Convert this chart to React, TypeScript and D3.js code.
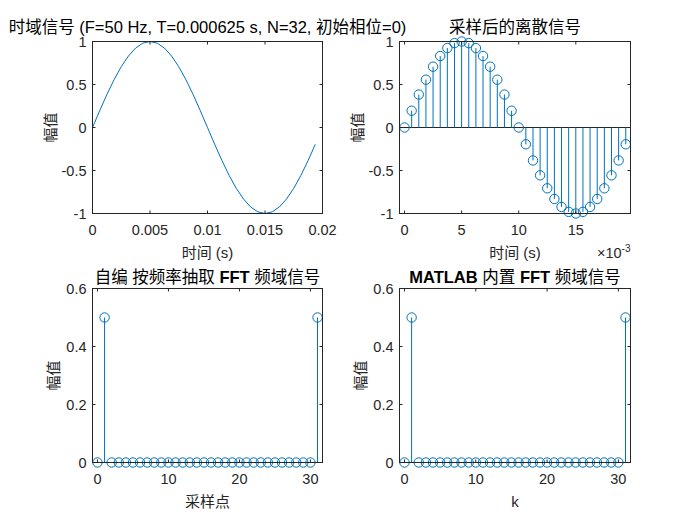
import React from "react";
import * as d3 from "d3";

// ---------- data ----------
const sampleTime = [
  0, 0.000625, 0.00125, 0.001875, 0.0025, 0.003125, 0.00375, 0.004375,
  0.005, 0.005625, 0.00625, 0.006875, 0.0075, 0.008125, 0.00875, 0.009375,
  0.01, 0.010625, 0.01125, 0.011875, 0.0125, 0.013125, 0.01375, 0.014375,
  0.015, 0.015625, 0.01625, 0.016875, 0.0175, 0.018125, 0.01875, 0.019375,
];
const sampleValue = [
  0, 0.195, 0.383, 0.556, 0.707, 0.831, 0.924, 0.981,
  1, 0.981, 0.924, 0.831, 0.707, 0.556, 0.383, 0.195,
  0, -0.195, -0.383, -0.556, -0.707, -0.831, -0.924, -0.981,
  -1, -0.981, -0.924, -0.831, -0.707, -0.556, -0.383, -0.195,
];
const fftIndex = [
  0, 1, 2, 3, 4, 5, 6, 7, 8, 9, 10, 11, 12, 13, 14, 15,
  16, 17, 18, 19, 20, 21, 22, 23, 24, 25, 26, 27, 28, 29, 30, 31,
];
const fftCustom = [
  0, 0.5, 0, 0, 0, 0, 0, 0, 0, 0, 0, 0, 0, 0, 0, 0,
  0, 0, 0, 0, 0, 0, 0, 0, 0, 0, 0, 0, 0, 0, 0, 0.5,
];
const fftBuiltin = [
  0, 0.5, 0, 0, 0, 0, 0, 0, 0, 0, 0, 0, 0, 0, 0, 0,
  0, 0, 0, 0, 0, 0, 0, 0, 0, 0, 0, 0, 0, 0, 0, 0.5,
];
const timeTicks = [0, 0.005, 0.01, 0.015, 0.02];
const timeTicksScaled = [0, 0.005, 0.01, 0.015];
const ampTicks = [-1, -0.5, 0, 0.5, 1];
const idxTicks = [0, 10, 20, 30];
const magTicks = [0, 0.2, 0.4, 0.6];

const titles = [
  "时域信号 (F=50 Hz, T=0.000625 s, N=32, 初始相位=0)",
  "采样后的离散信号",
  "自编 按频率抽取 FFT 频域信号",
  "MATLAB 内置 FFT 频域信号",
];
const xLabels = ["时间 (s)", "时间 (s)", "采样点", "k"];
const yLabel = "幅值";

// ---------- style ----------
const BLUE = "#0072BD";
const AX = "#262626";
const FONT = "'Liberation Sans', Arial, 'Noto Sans CJK SC', sans-serif";
const TICK_FS = 14.5;
const LABEL_FS = 15;
const TITLE_FS = 16.5;

type Box = { x0: number; x1: number; y0: number; y1: number };

function Panel(props: {
  box: Box;
  x: d3.ScaleLinear<number, number>;
  y: d3.ScaleLinear<number, number>;
  xTicks: number[];
  xFmt: (v: number) => string;
  yTicks: number[];
  yFmt: (v: number) => string;
  title: React.ReactNode;
  titleGap: number;
  xLabel: string;
  yLabelOffset: number;
  children?: React.ReactNode;
}) {
  const { box, x, y } = props;
  const tl = 3;
  const cx = (box.x0 + box.x1) / 2;
  const cy = (box.y0 + box.y1) / 2;
  return (
    <g>
      <rect x={box.x0} y={box.y0} width={box.x1 - box.x0} height={box.y1 - box.y0} fill="#fff" />
      {props.children}
      <rect
        x={box.x0}
        y={box.y0}
        width={box.x1 - box.x0}
        height={box.y1 - box.y0}
        fill="none"
        stroke={AX}
        strokeWidth={1}
      />
      {props.xTicks.map((t) => (
        <g key={"xt" + t}>
          <line x1={x(t)} x2={x(t)} y1={box.y1} y2={box.y1 - tl} stroke={AX} />
          <line x1={x(t)} x2={x(t)} y1={box.y0} y2={box.y0 + tl} stroke={AX} />
          <text
            x={x(t)}
            y={box.y1 + 21.5}
            textAnchor="middle"
            fontSize={TICK_FS}
            fill={AX}
          >
            {props.xFmt(t)}
          </text>
        </g>
      ))}
      {props.yTicks.map((t) => (
        <g key={"yt" + t}>
          <line x1={box.x0} x2={box.x0 + tl} y1={y(t)} y2={y(t)} stroke={AX} />
          <line x1={box.x1} x2={box.x1 - tl} y1={y(t)} y2={y(t)} stroke={AX} />
          <text
            x={box.x0 - 6}
            y={y(t) + 5}
            textAnchor="end"
            fontSize={TICK_FS}
            fill={AX}
          >
            {props.yFmt(t)}
          </text>
        </g>
      ))}
      <text x={cx} y={box.y0 - props.titleGap} textAnchor="middle" fontSize={TITLE_FS} fill="#000">
        {props.title}
      </text>
      <text x={cx} y={box.y1 + 44} textAnchor="middle" fontSize={LABEL_FS} fill={AX}>
        {props.xLabel}
      </text>
      <text
        transform={`translate(${box.x0 - props.yLabelOffset},${cy}) rotate(-90)`}
        textAnchor="middle"
        dominantBaseline="central"
        fontSize={LABEL_FS}
        fill={AX}
      >
        {yLabel}
      </text>
    </g>
  );
}

function Stems(props: {
  xs: number[];
  ys: number[];
  x: d3.ScaleLinear<number, number>;
  y: d3.ScaleLinear<number, number>;
}) {
  const { xs, ys, x, y } = props;
  return (
    <g>
      {xs.map((xv, i) => (
        <line
          key={"s" + i}
          x1={x(xv)}
          x2={x(xv)}
          y1={y(0)}
          y2={y(ys[i])}
          stroke={BLUE}
          strokeWidth={1}
        />
      ))}
      {xs.map((xv, i) => (
        <circle
          key={"c" + i}
          cx={x(xv)}
          cy={y(ys[i])}
          r={4.7}
          fill="none"
          stroke={BLUE}
          strokeWidth={1}
        />
      ))}
    </g>
  );
}

export default function App() {
  const TL: Box = { x0: 92.5, x1: 322.5, y0: 41.5, y1: 213.5 };
  const TR: Box = { x0: 399.5, x1: 630.5, y0: 41.5, y1: 213.5 };
  const BL: Box = { x0: 92.5, x1: 322.5, y0: 288.5, y1: 462.5 };
  const BR: Box = { x0: 399.5, x1: 630.5, y0: 288.5, y1: 462.5 };

  const xTL = d3.scaleLinear().domain([0, 0.02]).range([TL.x0, TL.x1]);
  const yTL = d3.scaleLinear().domain([-1, 1]).range([TL.y1, TL.y0]);
  const xTR = d3.scaleLinear().domain([-0.00044, 0.01979]).range([TR.x0, TR.x1]);
  const yTR = d3.scaleLinear().domain([-1, 1]).range([TR.y1, TR.y0]);
  const xBL = d3.scaleLinear().domain([-0.7, 31.7]).range([BL.x0, BL.x1]);
  const yBL = d3.scaleLinear().domain([0, 0.6]).range([BL.y1, BL.y0]);
  const xBR = d3.scaleLinear().domain([-0.7, 31.7]).range([BR.x0, BR.x1]);
  const yBR = d3.scaleLinear().domain([0, 0.6]).range([BR.y1, BR.y0]);

  const linePath =
    d3
      .line<number>()
      .x((_, i) => xTL(sampleTime[i]))
      .y((v) => yTL(v))(sampleValue) || "";

  const fmtGen = (v: number) => String(v);
  const fmtMilli = (v: number) => String(Math.round(v * 1000));

  return (
    <svg
      width={700}
      height={525}
      style={{ display: "block", position: "absolute", left: 0, top: 0, fontFamily: FONT }}
    >
      <rect width={700} height={525} fill="#fff" />
      <Panel
        box={TL}
        x={xTL}
        y={yTL}
        xTicks={timeTicks}
        xFmt={fmtGen}
        yTicks={ampTicks}
        yFmt={fmtGen}
        title={titles[0]}
        titleGap={8.5}
        xLabel={xLabels[0]}
        yLabelOffset={42}
      >
        <path d={linePath} fill="none" stroke={BLUE} strokeWidth={1} />
      </Panel>
      <Panel
        box={TR}
        x={xTR}
        y={yTR}
        xTicks={timeTicksScaled}
        xFmt={fmtMilli}
        yTicks={ampTicks}
        yFmt={fmtGen}
        title={titles[1]}
        titleGap={8.5}
        xLabel={xLabels[1]}
        yLabelOffset={42}
      >
        <line x1={TR.x0} x2={TR.x1} y1={yTR(0)} y2={yTR(0)} stroke={AX} strokeWidth={1} />
        <Stems xs={sampleTime} ys={sampleValue} x={xTR} y={yTR} />
      </Panel>
      <text x={TR.x1} y={TR.y1 + 44} textAnchor="end" fontSize={TICK_FS} fill={AX}>
        ×10
        <tspan dy={-6} fontSize={10}>
          -3
        </tspan>
      </text>
      <Panel
        box={BL}
        x={xBL}
        y={yBL}
        xTicks={idxTicks}
        xFmt={fmtGen}
        yTicks={magTicks}
        yFmt={fmtGen}
        title={
          <>
            自编 按频率抽取 <tspan fontWeight="bold">FFT</tspan> 频域信号
          </>
        }
        titleGap={6}
        xLabel={xLabels[2]}
        yLabelOffset={39}
      >
        <Stems xs={fftIndex} ys={fftCustom} x={xBL} y={yBL} />
      </Panel>
      <Panel
        box={BR}
        x={xBR}
        y={yBR}
        xTicks={idxTicks}
        xFmt={fmtGen}
        yTicks={magTicks}
        yFmt={fmtGen}
        title={
          <>
            <tspan fontWeight="bold">MATLAB</tspan> 内置 <tspan fontWeight="bold">FFT</tspan> 频域信号
          </>
        }
        titleGap={6}
        xLabel={xLabels[3]}
        yLabelOffset={39}
      >
        <Stems xs={fftIndex} ys={fftBuiltin} x={xBR} y={yBR} />
      </Panel>
    </svg>
  );
}
